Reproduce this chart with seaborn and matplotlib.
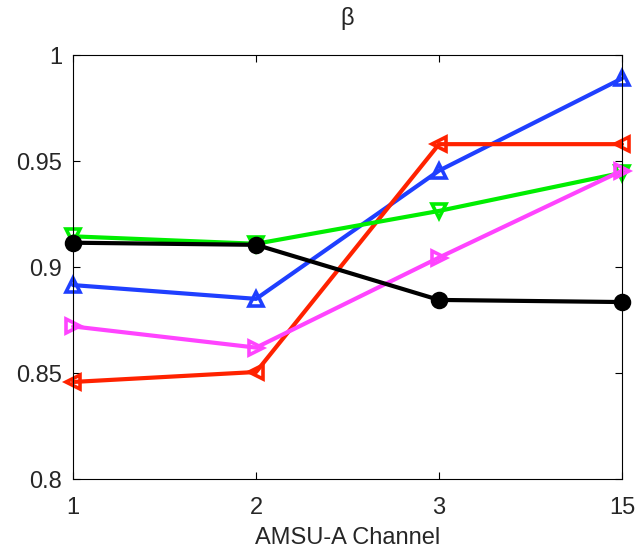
import matplotlib
matplotlib.use("Agg")
import matplotlib.pyplot as plt
import seaborn as sns
import pandas as pd

channels = ["1", "2", "3", "15"]
blue_vals = [0.8915, 0.8850, 0.9455, 0.9890]
red_vals = [0.8458, 0.8505, 0.9580, 0.9580]
green_vals = [0.9145, 0.9110, 0.9265, 0.9445]
magenta_vals = [0.8720, 0.8620, 0.9045, 0.9455]
black_vals = [0.9115, 0.9105, 0.8845, 0.8835]

series = [
    ("blue", blue_vals, "#1f3fff", "^"),
    ("red", red_vals, "#ff2200", "<"),
    ("green", green_vals, "#00ee00", "v"),
    ("magenta", magenta_vals, "#ff44ff", ">"),
    ("black", black_vals, "#000000", "o"),
]

sns.set_style("white")
plt.rcParams["font.family"] = ["Liberation Sans", "DejaVu Sans"]

fig = plt.figure(figsize=(6.36, 5.57), dpi=100)
ax = fig.add_axes([0.115, 0.140, 0.863, 0.761])

for name, vals, color, marker in series:
    df = pd.DataFrame({"x": range(len(channels)), "y": vals})
    sns.lineplot(data=df, x="x", y="y", ax=ax, color=color, marker=marker,
                 markersize=10, linewidth=3.0, markeredgecolor=color,
                 markerfacecolor=color if marker == "o" else "none",
                 markeredgewidth=2.6, clip_on=False)

ax.set_xlim(0, len(channels) - 1)
ax.set_ylim(0.8, 1.0)
ax.set_xticks(range(len(channels)))
ax.set_xticklabels(channels)
ax.set_yticks([0.8, 0.85, 0.9, 0.95, 1.0])
ax.set_yticklabels(["0.8", "0.85", "0.9", "0.95", "1"])
ax.tick_params(axis="both", labelsize=17, direction="in", length=5,
               width=0.8, color="black", left=True, bottom=True, top=True, right=True,
               pad=8)
ax.tick_params(axis="x", pad=13)
for s in ax.spines.values():
    s.set_color("black")
    s.set_linewidth(0.8)
ax.set_xlabel("AMSU-A Channel", fontsize=17, labelpad=6)
ax.set_ylabel("")
ax.set_title("β", fontsize=17, pad=22)
fig.savefig("out.png", dpi=100)
